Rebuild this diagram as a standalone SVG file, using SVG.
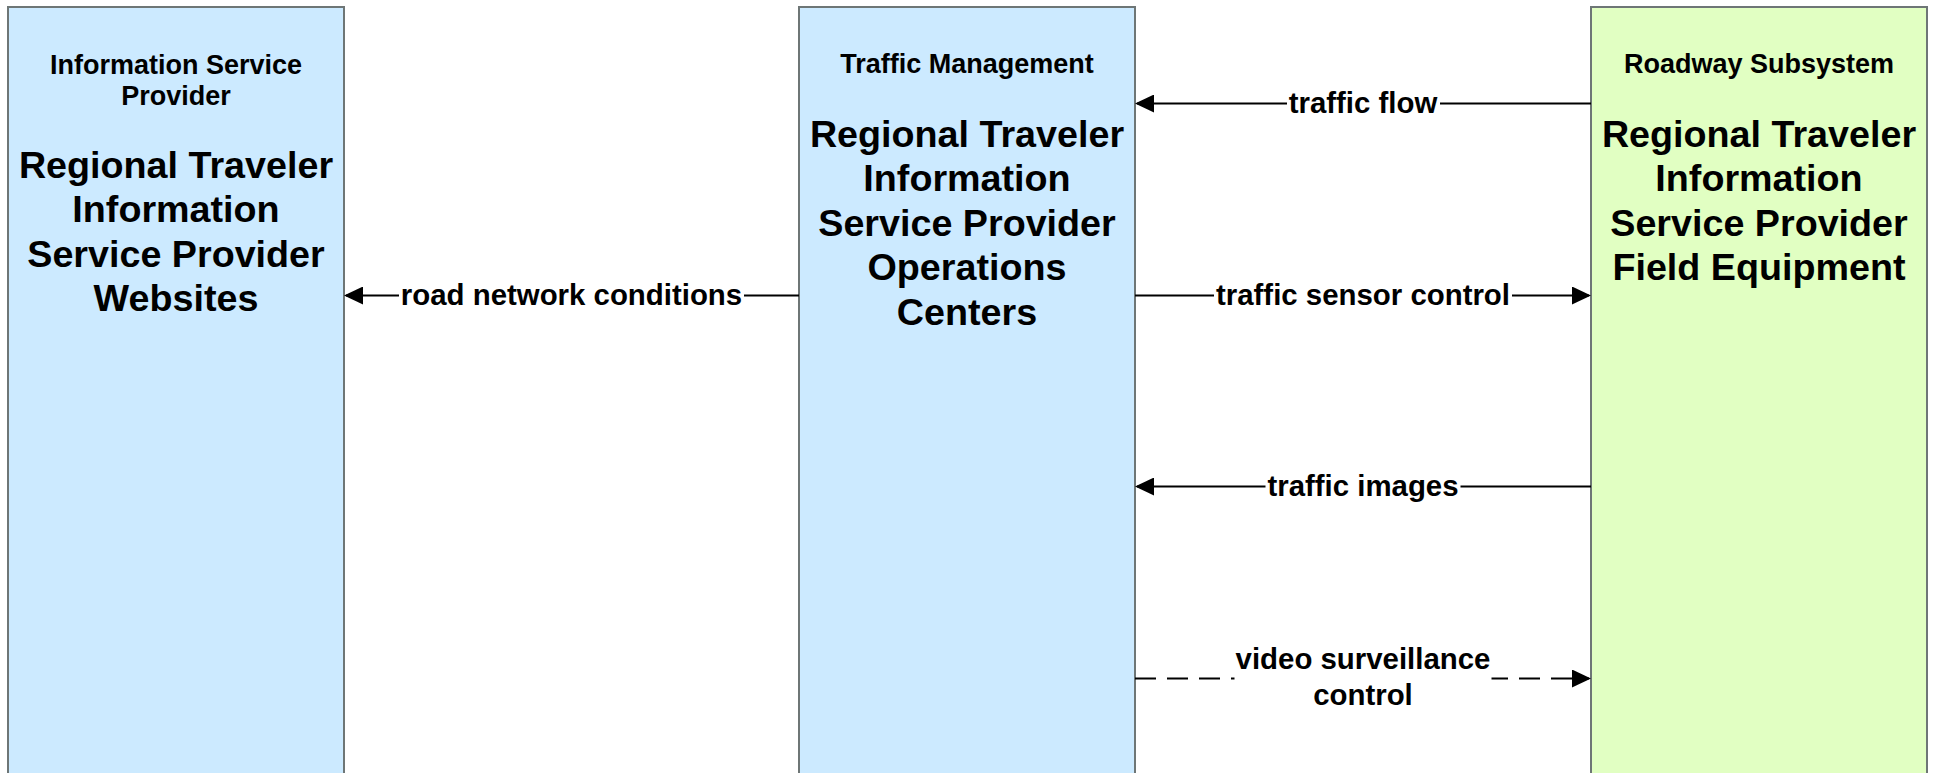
<svg xmlns="http://www.w3.org/2000/svg" width="1937" height="773" viewBox="0 0 1937 773">
<defs>
<style>
.box{stroke:#6e7676;stroke-width:2}
.blue{fill:#cceaff}
.green{fill:#e1ffc2}
text{font-family:"Liberation Sans",Arial,sans-serif;font-weight:bold;fill:#000;text-anchor:middle}
.hdr{font-size:27px}
.big{font-size:37.7px}
.lbl{font-size:29.4px}
.conn{stroke:#000;stroke-width:2;fill:none}
.dash{stroke-dasharray:21 11}
.bg{fill:#fff}
</style>
<marker id="arr" markerUnits="userSpaceOnUse" markerWidth="19" markerHeight="18" refX="17" refY="9" orient="auto" viewBox="0 0 19 18">
<path d="M0,0 L19,9 L0,18 Z" fill="#000"/>
</marker>
</defs>
<rect width="1937" height="773" fill="#fff"/>
<g id="node-isp">
<rect class="box blue" x="8" y="7" width="336" height="800"/>
<text class="hdr" x="176" y="74">Information Service</text>
<text class="hdr" x="176" y="105">Provider</text>
<text class="big" x="176" y="178">Regional Traveler</text>
<text class="big" x="176" y="222.4">Information</text>
<text class="big" x="176" y="266.8">Service Provider</text>
<text class="big" x="176" y="311.2">Websites</text>
</g>
<g id="node-tm">
<rect class="box blue" x="799" y="7" width="336" height="800"/>
<text class="hdr" x="967" y="73">Traffic Management</text>
<text class="big" x="967" y="147">Regional Traveler</text>
<text class="big" x="967" y="191.4">Information</text>
<text class="big" x="967" y="235.8">Service Provider</text>
<text class="big" x="967" y="280.2">Operations</text>
<text class="big" x="967" y="324.6">Centers</text>
</g>
<g id="node-rs">
<rect class="box green" x="1591" y="7" width="336" height="800"/>
<text class="hdr" x="1759" y="73">Roadway Subsystem</text>
<text class="big" x="1759" y="147">Regional Traveler</text>
<text class="big" x="1759" y="191.4">Information</text>
<text class="big" x="1759" y="235.8">Service Provider</text>
<text class="big" x="1759" y="280.2">Field Equipment</text>
</g>
<g id="connectors">
<g id="c-road">
<line class="conn" x1="799" y1="295.5" x2="346" y2="295.5" marker-end="url(#arr)"/>
<rect class="bg" x="399" y="282" width="345" height="28"/>
<text class="lbl" x="571.5" y="305">road network conditions</text>
</g>
<g id="c-flow">
<line class="conn" x1="1591" y1="103.5" x2="1137" y2="103.5" marker-end="url(#arr)"/>
<rect class="bg" x="1287" y="90" width="153" height="28"/>
<text class="lbl" x="1363" y="113">traffic flow</text>
</g>
<g id="c-sensor">
<line class="conn" x1="1135" y1="295.5" x2="1589" y2="295.5" marker-end="url(#arr)"/>
<rect class="bg" x="1214" y="282" width="298" height="28"/>
<text class="lbl" x="1363" y="305">traffic sensor control</text>
</g>
<g id="c-images">
<line class="conn" x1="1591" y1="486.5" x2="1137" y2="486.5" marker-end="url(#arr)"/>
<rect class="bg" x="1265.5" y="473" width="195" height="28"/>
<text class="lbl" x="1363" y="496">traffic images</text>
</g>
<g id="c-video">
<line class="conn dash" x1="1135" y1="678.5" x2="1589" y2="678.5" marker-end="url(#arr)"/>
<rect class="bg" x="1234.5" y="665" width="257" height="28"/>
<text class="lbl" x="1363" y="669">video surveillance</text>
<text class="lbl" x="1363" y="705">control</text>
</g>
</g>
</svg>
